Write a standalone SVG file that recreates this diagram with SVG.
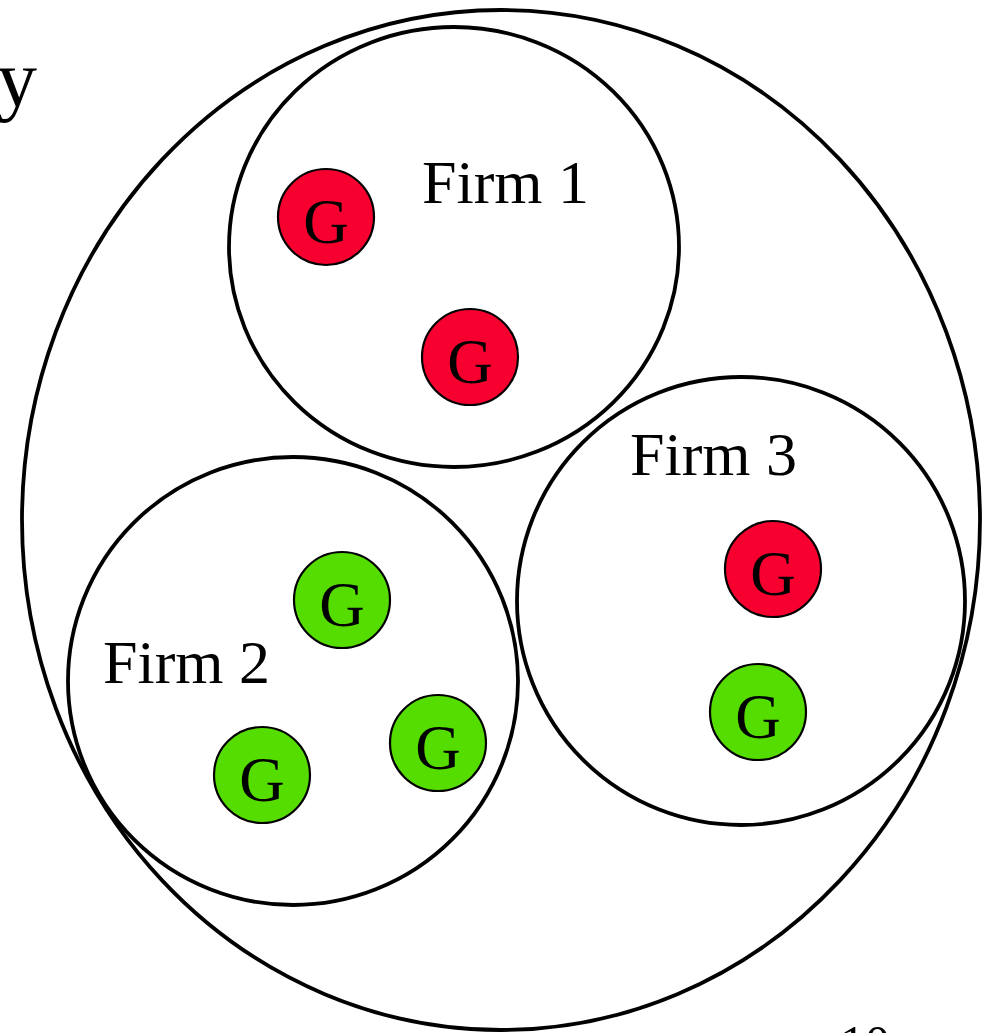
<svg xmlns="http://www.w3.org/2000/svg" width="991" height="1033" viewBox="0 0 991 1033">
<style>
.big{fill:none;stroke:#000;stroke-width:3.8}
.lbl{font-family:"Liberation Serif","Times New Roman",serif;font-size:62px;fill:#000}
.g circle{stroke:#000;stroke-width:2.2}
.g text{font-family:"Liberation Serif","Times New Roman",serif;font-size:63px;fill:#000;text-anchor:middle}
.red{fill:#f7002f}
.green{fill:#55dd00}
</style>
<rect width="991" height="1033" fill="#fff"/>
<text class="lbl" x="37" y="106" text-anchor="end" style="font-size:80px">y</text>
<text class="lbl" x="840" y="1060" style="font-size:50px">10</text>
<g id="economy"><ellipse class="big" cx="501" cy="520" rx="479" ry="510"/></g>
<g id="firm1"><ellipse class="big" cx="454" cy="247" rx="225" ry="220"/><text class="lbl" x="422" y="203">Firm 1</text></g>
<g id="firm2"><ellipse class="big" cx="293" cy="681" rx="225" ry="224"/><text class="lbl" x="103" y="683">Firm 2</text></g>
<g id="firm3"><ellipse class="big" cx="741" cy="601" rx="224" ry="224"/><text class="lbl" x="630" y="475">Firm 3</text></g>
<g id="g1" class="g"><circle class="red" cx="326" cy="217" r="48"/><text x="326" y="243">G</text></g>
<g id="g2" class="g"><circle class="red" cx="470" cy="357" r="48"/><text x="470" y="383">G</text></g>
<g id="g3" class="g"><circle class="green" cx="342" cy="600" r="48"/><text x="342" y="626">G</text></g>
<g id="g4" class="g"><circle class="green" cx="438" cy="743" r="48"/><text x="438" y="769">G</text></g>
<g id="g5" class="g"><circle class="green" cx="262" cy="775" r="48"/><text x="262" y="801">G</text></g>
<g id="g6" class="g"><circle class="red" cx="773" cy="569" r="48"/><text x="773" y="595">G</text></g>
<g id="g7" class="g"><circle class="green" cx="758" cy="712" r="48"/><text x="758" y="738">G</text></g>
<g id="connectors"/>
</svg>
